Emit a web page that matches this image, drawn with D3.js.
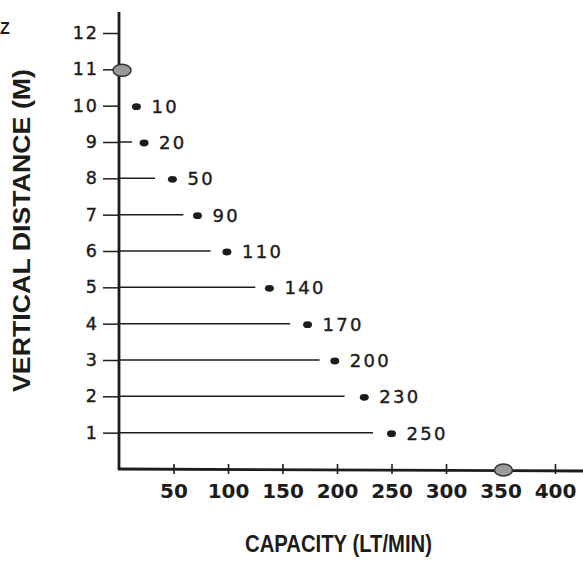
<!DOCTYPE html>
<html>
<head>
<meta charset="utf-8">
<script src="https://cdn.jsdelivr.net/npm/d3@7"></script>
<style>
  body { margin: 0; background: #fff; }
  svg { display: block; }
</style>
</head>
<body>
<svg id="chart"></svg>
<script>
// values
const distance = [1, 2, 3, 4, 5, 6, 7, 8, 9, 10];
const capacityLabel = [250, 230, 200, 170, 140, 110, 90, 50, 20, 10];
const dotCapacity = [250, 225, 198, 173, 138, 99, 72, 49, 23, 16]; // where the dots sit
const lineEnd = [233, 207, 184, 157, 125, 84, 59, 33, 12, 0];      // where the lines stop
const xTicks = [50, 100, 150, 200, 250, 300, 350, 400];
const yTicks = [1, 2, 3, 4, 5, 6, 7, 8, 9, 10, 11, 12];
const markerCapacity = [0, 350];
const markerDistance = [11, 0];

const width = 583;
const height = 562;
const ink = "#1c1c1c";

const svg = d3.select("#chart")
  .attr("width", width)
  .attr("height", height);

const x = d3.scaleLinear().domain([0, 400]).range([119, 555]);
const y = d3.scaleLinear().domain([0, 12]).range([469, 33]);

const rows = distance.map((d, i) => ({
  distance: d,
  label: capacityLabel[i],
  dot: dotCapacity[i],
  end: lineEnd[i]
}));

// horizontal lines from the axis
svg.append("g")
  .selectAll("line")
  .data(rows.filter(d => d.end > 0))
  .enter()
  .append("line")
  .attr("x1", x(0))
  .attr("x2", d => x(d.end))
  .attr("y1", d => y(d.distance))
  .attr("y2", d => y(d.distance))
  .attr("stroke", ink)
  .attr("stroke-width", 1.5);

// y axis
const yAxis = d3.axisLeft(y)
  .tickValues(yTicks)
  .tickSize(16)
  .tickPadding(6);

const gy = svg.append("g")
  .attr("transform", `translate(${x(0)},0)`)
  .call(yAxis);
gy.select(".domain").remove();
gy.selectAll(".tick line").attr("stroke", ink).attr("stroke-width", 1.5);
gy.selectAll(".tick text")
  .attr("x", -20)
  .attr("fill", ink)
  .attr("stroke", ink)
  .attr("stroke-width", 0.4)
  .style("font-family", "DejaVu Sans")
  .style("font-size", "17.5px")
  .style("letter-spacing", "2px");

// x axis
const xAxis = d3.axisBottom(x)
  .tickValues(xTicks)
  .tickSize(5);

const gx = svg.append("g")
  .attr("transform", `translate(0,${y(0)})`)
  .call(xAxis);
gx.select(".domain").remove();
gx.selectAll(".tick line")
  .attr("y1", -5)
  .attr("y2", 5)
  .attr("stroke", ink)
  .attr("stroke-width", 1.6);
gx.selectAll(".tick text")
  .attr("y", 29)
  .attr("dy", 0)
  .attr("fill", ink)
  .style("font-family", "DejaVu Sans")
  .style("font-weight", "bold")
  .style("font-size", "20px");

// axis lines
svg.append("line")
  .attr("x1", x(0)).attr("x2", x(0))
  .attr("y1", 12).attr("y2", y(0) + 1)
  .attr("stroke", ink).attr("stroke-width", 2.8);
svg.append("line")
  .attr("x1", x(0) - 1).attr("x2", width)
  .attr("y1", y(0)).attr("y2", y(0) + 2)
  .attr("stroke", ink).attr("stroke-width", 2.8);

// dots and value labels
svg.append("g")
  .selectAll("ellipse")
  .data(rows)
  .enter()
  .append("ellipse")
  .attr("cx", d => x(d.dot))
  .attr("cy", d => y(d.distance) + 1)
  .attr("rx", 4.5)
  .attr("ry", 3.4)
  .attr("fill", ink);

svg.append("g")
  .selectAll("text")
  .data(rows)
  .enter()
  .append("text")
  .attr("x", d => x(d.dot) + 15)
  .attr("y", d => y(d.distance) + 7)
  .attr("fill", ink)
  .attr("stroke", ink)
  .attr("stroke-width", 0.4)
  .style("font-family", "DejaVu Sans")
  .style("font-size", "18px")
  .style("letter-spacing", "2.3px")
  .text(d => d.label);

// the two grey arrow marks
const marks = markerCapacity.map((c, i) => ({ c: c, d: markerDistance[i] }));
svg.append("g")
  .selectAll("ellipse")
  .data(marks)
  .enter()
  .append("ellipse")
  .attr("cx", d => x(d.c) + 3)
  .attr("cy", d => y(d.d) + 1)
  .attr("rx", 9)
  .attr("ry", 6)
  .attr("fill", "#9a9a9a")
  .attr("stroke", "#333")
  .attr("stroke-width", 1.5);

// axis titles
svg.append("text")
  .attr("x", 245)
  .attr("y", 552)
  .attr("textLength", 187)
  .attr("lengthAdjust", "spacingAndGlyphs")
  .attr("fill", ink)
  .style("font-family", "Liberation Sans")
  .style("font-weight", "bold")
  .style("font-size", "23px")
  .text("CAPACITY (LT/MIN)");

svg.append("text")
  .attr("transform", "translate(30,392) rotate(-90)")
  .attr("textLength", 323)
  .attr("lengthAdjust", "spacingAndGlyphs")
  .attr("fill", ink)
  .style("font-family", "Liberation Sans")
  .style("font-weight", "bold")
  .style("font-size", "24px")
  .text("VERTICAL DISTANCE (M)");

// small character at the top left corner
svg.append("text")
  .attr("x", 0)
  .attr("y", 34)
  .attr("fill", ink)
  .style("font-family", "Liberation Sans")
  .style("font-weight", "bold")
  .style("font-size", "16px")
  .text("Z");
</script>
</body>
</html>
